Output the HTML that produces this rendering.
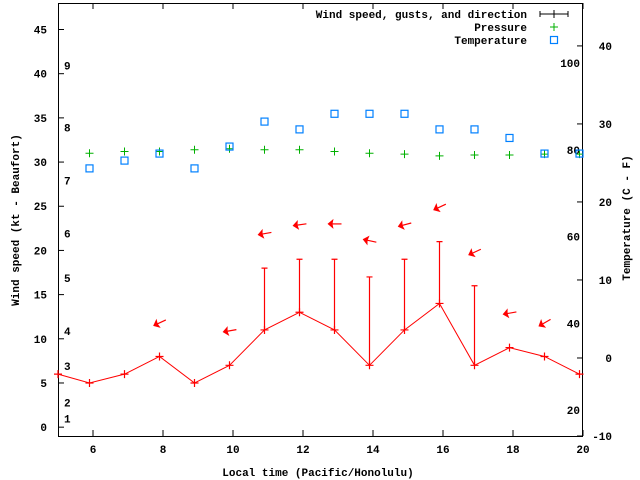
<!DOCTYPE html>
<html><head><meta charset="utf-8">
<style>
html,body{margin:0;padding:0;background:#fff;}
svg{display:block;font-family:"Liberation Mono",monospace;font-size:11px;font-weight:bold;}
</style></head>
<body>
<svg id="chart" width="640" height="480" viewBox="0 0 640 480" xmlns="http://www.w3.org/2000/svg">
<g id="axes"></g>
<g id="marks"></g>
<text transform="translate(19,220) rotate(-90)" text-anchor="middle">Wind speed (kt - Beaufort)</text>
<text transform="translate(630,218) rotate(-90)" text-anchor="middle">Temperature (C - F)</text>
<text x="318" y="476" text-anchor="middle">Local time (Pacific/Honolulu)</text>
<g>
<text x="527" y="18" text-anchor="end">Wind speed, gusts, and direction</text>
<path d="M540 14H568M540 11V17M568 11V17M550 14H558M554 10V18" stroke="#000" stroke-width="1" fill="none"/>
<text x="527" y="31" text-anchor="end">Pressure</text>
<path d="M550 27H558M554 23V31" stroke="#00b000" stroke-width="1"/>
<text x="527" y="44" text-anchor="end">Temperature</text>
<rect x="550.5" y="36.5" width="7" height="7" fill="none" stroke="#0080ff" stroke-width="1.2"/>
</g>
</svg>
<script>
const windTimes=[5,5.9,6.9,7.9,8.9,9.9,10.9,11.9,12.9,13.9,14.9,15.9,16.9,17.9,18.9,19.9];
const windSpeed=[6,5,6,8,5,7,11,13,11,7,11,14,7,9,8,6];
const gustTimes=[10.9,11.9,12.9,13.9,14.9,15.9,16.9];
const gustSpeed=[18,19,19,17,19,21,16];
const obsTimes=[5.9,6.9,7.9,8.9,9.9,10.9,11.9,12.9,13.9,14.9,15.9,16.9,17.9,18.9,19.9];
const pressure=[31,31.2,31.2,31.4,31.5,31.4,31.4,31.2,31,30.9,30.7,30.8,30.8,30.9,30.9];
const temperatureC=[24.3,25.3,26.2,24.3,27.1,30.3,29.3,31.3,31.3,31.3,29.3,29.3,28.2,26.2,26.2];
const arrowTimes=[7.9,9.9,10.9,11.9,12.9,13.9,14.9,15.9,16.9,17.9,18.9];
const arrowSpeed=[11.8,10.9,21.9,22.9,23,21.1,22.9,24.9,19.8,12.9,11.8];
const arrowAngle=[25,10,10,8,0,-12,15,25,25,10,30];
const xTicks=[6,8,10,12,14,16,18,20];
const yTicks=[0,5,10,15,20,25,30,35,40,45];
const cTicks=[-10,0,10,20,30,40];
const fTicks=[20,40,60,80,100];
const beaufortLabels=["1","2","3","4","5","6","7","8","9"];
const beaufortPos=[1,2.8,6.9,10.9,16.9,21.9,27.9,33.9,40.9];

const L=58,R=583,T=3,B=436;
const x=t=>L+(t-5)*(R-L)/15;
const y=v=>B-(v+1)*(B-T)/49;
const yc=c=>B-(c+10)*(B-T)/55.5;
const NS="http://www.w3.org/2000/svg";
function mk(tag,parent,attrs){const e=document.createElementNS(NS,tag);for(const k in attrs)e.setAttribute(k,attrs[k]);parent.appendChild(e);return e;}
const ax=document.getElementById('axes'),mg=document.getElementById('marks');
let frame=mk('rect',ax,{x:L+.5,y:T+.5,width:R-L-1,height:B-T,fill:'none',stroke:'#000'});


xTicks.forEach(t=>{
  const p=mk('path',ax,{d:`M${x(t)} ${B}v-6M${x(t)} ${T}v6`,stroke:'#000'});
  
  
  const tx=mk('text',ax,{x:x(t),y:B+17,'text-anchor':'middle'});tx.textContent=t;
  
  
});
yTicks.forEach(v=>{
  const p=mk('path',ax,{d:`M${L} ${y(v)}h6`,stroke:'#000'});
  
  
  const tx=mk('text',ax,{x:L-11,y:y(v)+4,'text-anchor':'end'});tx.textContent=v;
  
  
});
cTicks.forEach(c=>{
  const p=mk('path',ax,{d:`M${R} ${yc(c)}h-6`,stroke:'#000'});
  
  
  const tx=mk('text',ax,{x:612,y:yc(c)+4,'text-anchor':'end'});tx.textContent=c;
  
  
});
fTicks.forEach(f=>{
  const c=(f-32)*5/9;
  const tx=mk('text',ax,{x:R-3,y:yc(c)+4,'text-anchor':'end'});tx.textContent=f;
  
  
});
beaufortLabels.forEach((b,i)=>{
  const tx=mk('text',ax,{x:64,y:y(beaufortPos[i])+4});tx.textContent=b;
  
  
});
gustTimes.forEach((t,i)=>{
  const w=windSpeed[windTimes.indexOf(t)];
  const p=mk('path',mg,{d:`M${x(t)} ${y(w)}V${y(gustSpeed[i])}M${x(t)-3} ${y(gustSpeed[i])}h6`,stroke:'#f00','stroke-width':1.2,fill:'none'});
  
  
});
const line=mk('polyline',mg,{points:windTimes.map((t,i)=>x(t)+','+y(windSpeed[i])).join(' '),fill:'none',stroke:'#f00','stroke-width':1});


windTimes.forEach((t,i)=>{
  const p=mk('path',mg,{d:`M${x(t)-4} ${y(windSpeed[i])}h8M${x(t)} ${y(windSpeed[i])-4}v8`,stroke:'#f00','stroke-width':1.2});
  
  
});
obsTimes.forEach((t,i)=>{
  const p=mk('path',mg,{d:`M${x(t)-4} ${y(pressure[i])}h8M${x(t)} ${y(pressure[i])-4}v8`,stroke:'#00b000','stroke-width':1});
  
  
});
obsTimes.forEach((t,i)=>{
  const r=mk('rect',mg,{x:x(t)-3.5,y:yc(temperatureC[i])-3.5,width:7,height:7,fill:'none',stroke:'#0080ff','stroke-width':1.2});
  
  
});
arrowTimes.forEach((t,i)=>{
  const cx=x(t),cy=y(arrowSpeed[i]);
  const g=mk('g',mg,{transform:`translate(${cx},${cy}) rotate(${-arrowAngle[i]})`});
  
  
  mk('path',g,{d:'M7 0H-6',stroke:'#f00','stroke-width':1.2});
  mk('path',g,{d:'M-7 0L-1 -5L-2 0L-1 5Z',fill:'#f00'});
});
</script>
</body></html>
